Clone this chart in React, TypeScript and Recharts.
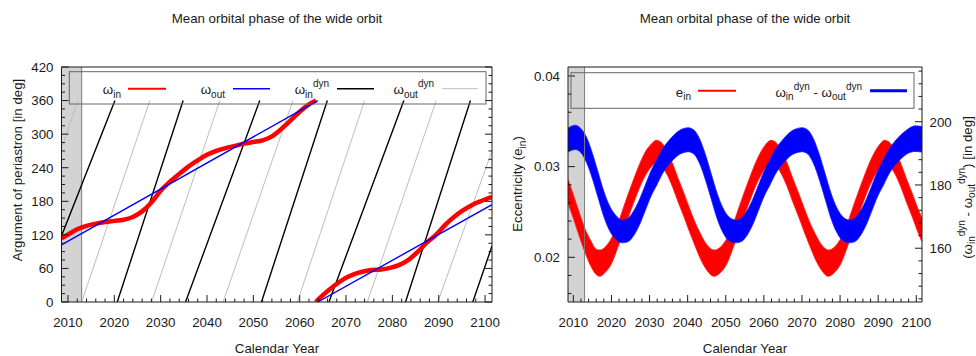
import React from "react";
import {
  ComposedChart,
  Line,
  Area,
  XAxis,
  YAxis,
  ReferenceArea,
  ReferenceLine,
} from "recharts";

const FONT = "'Liberation Sans', Arial, Helvetica, sans-serif";
const FS = 13.3;
const INK = "#1a1a1a";

const YEAR_MIN = 2008.6;
const YEAR_MAX = 2101.5;
const PHASE_MIN = -2.7;
const PHASE_MAX = 323.6;
const OBS_END = 2012.95; // right edge of the shaded window

// tick labels
const yearLabels = [2010, 2020, 2030, 2040, 2050, 2060, 2070, 2080, 2090, 2100];
const phaseLabels = [0, 50, 100, 150, 200, 250, 300];
const argLabels = [0, 60, 120, 180, 240, 300, 360, 420];
const eccLabels = [0.02, 0.03, 0.04];
const diffLabels = [160, 180, 200];

const steps = (from: number, to: number, step: number) => {
  const out: number[] = [];
  for (let v = from; v <= to + step / 1000; v += step) out.push(Number(v.toFixed(4)));
  return out;
};
const yearTicks = steps(2010, 2100, 2);
const phaseTicks = steps(0, 300, 25);
const argTicks = steps(0, 420, 15);
const eccTicks = steps(0.016, 0.04, 0.002);
const diffTicks = steps(144, 216, 4);

// left panel: argument of periastron [deg], branches split where they wrap at 360
const omegaIn: [number, number][][] = [
  [
    [2008.6, 114], [2010.1, 121], [2012, 130], [2014, 136], [2016, 140], [2018, 143],
    [2020, 145], [2022, 147], [2024, 152], [2026, 162], [2028, 178], [2030, 199],
    [2032, 215], [2034, 229], [2036, 242], [2038, 253], [2040, 263], [2042, 270],
    [2044, 275], [2046, 279], [2048, 283], [2050, 286], [2052, 289], [2054, 296],
    [2056, 309], [2058, 324], [2060, 340], [2062, 353], [2063.5, 360],
  ],
  [
    [2063.5, 0], [2064.6, 9], [2066.1, 20], [2067.6, 30], [2069.5, 41], [2071.5, 49],
    [2073.5, 54], [2075.5, 57], [2077.5, 58], [2079.5, 61], [2081.4, 66], [2083.4, 75],
    [2085.4, 89], [2087.4, 106], [2089.4, 120], [2091.4, 138], [2093.3, 152],
    [2095.3, 164], [2097.3, 174], [2099.3, 181], [2101.5, 188],
  ],
];

const omegaOut: [number, number][][] = [
  [[2008.6, 102], [2063.9, 360]],
  [[2063.9, 0], [2101.5, 174]],
];

const omegaInDyn: [number, number][][] = [
  [[2008.6, 118], [2020.13, 360]],
  [[2020.63, 0], [2034.85, 360]],
  [[2035.37, 0], [2051.38, 360]],
  [[2051.75, 0], [2065.97, 360]],
  [[2066.31, 0], [2082.48, 360]],
  [[2082.84, 0], [2096.85, 360]],
  [[2097.35, 0], [2101.5, 100]],
];

const omegaOutDyn: [number, number][][] = [
  [[2008.6, 275], [2012.16, 360]],
  [[2012.95, 0], [2027.67, 360]],
  [[2028.04, 0], [2042.76, 360]],
  [[2043.47, 0], [2058.56, 360]],
  [[2059.5, 0], [2074.01, 360]],
  [[2074.6, 0], [2089.46, 360]],
  [[2089.8, 0], [2101.5, 270]],
];

// right panel: e_in envelope (lower, upper)
const eYears = [
  2008.6, 2010.0, 2011.5, 2013.0, 2014.5, 2016.0, 2017.0, 2018.5, 2020.0, 2021.5, 2023.0,
  2024.5, 2026.0, 2027.5, 2029.0, 2030.5, 2031.7, 2033.0, 2034.5, 2036.0, 2037.5, 2039.0,
  2040.5, 2042.0, 2043.5, 2045.0, 2046.9, 2048.8, 2050.3, 2051.8, 2053.3, 2054.8, 2056.3,
  2057.8, 2059.3, 2060.6, 2061.8, 2063.1, 2064.6, 2066.1, 2067.6, 2069.1, 2070.6, 2072.1,
  2073.6, 2075.1, 2076.9, 2078.7, 2080.2, 2081.7, 2083.2, 2084.7, 2086.2, 2087.7, 2089.2,
  2090.5, 2091.6, 2092.9, 2094.4, 2095.9, 2097.4, 2098.9, 2100.4, 2101.5,
];
const eLower = [
  0.026, 0.0243, 0.0224, 0.0206, 0.0191, 0.0181, 0.0179, 0.0184, 0.0193, 0.0209, 0.0227,
  0.0245, 0.0262, 0.0278, 0.0291, 0.03, 0.0304, 0.0301, 0.0292, 0.0278, 0.0261, 0.0245,
  0.0228, 0.0212, 0.0197, 0.0186, 0.0179, 0.0184, 0.0193, 0.0209, 0.0227, 0.0245, 0.0262,
  0.0278, 0.0291, 0.03, 0.0304, 0.0301, 0.0292, 0.0278, 0.0261, 0.0245, 0.0228, 0.0212,
  0.0197, 0.0186, 0.0179, 0.0184, 0.0193, 0.0209, 0.0227, 0.0245, 0.0262, 0.0278, 0.0291,
  0.03, 0.0304, 0.0301, 0.0292, 0.0278, 0.0261, 0.0245, 0.0228, 0.0217,
];
const eUpper = [
  0.0286, 0.0269, 0.025, 0.0232, 0.0219, 0.0209, 0.0208, 0.0212, 0.0221, 0.0235, 0.0253,
  0.0271, 0.0288, 0.0304, 0.0317, 0.0325, 0.0329, 0.0327, 0.0318, 0.0304, 0.0287, 0.0271,
  0.0254, 0.0238, 0.0225, 0.0214, 0.0208, 0.0212, 0.0221, 0.0235, 0.0253, 0.0271, 0.0288,
  0.0304, 0.0317, 0.0325, 0.0329, 0.0327, 0.0318, 0.0304, 0.0287, 0.0271, 0.0254, 0.0238,
  0.0225, 0.0214, 0.0208, 0.0212, 0.0221, 0.0235, 0.0253, 0.0271, 0.0288, 0.0304, 0.0317,
  0.0325, 0.0329, 0.0327, 0.0318, 0.0304, 0.0287, 0.0271, 0.0254, 0.0243,
];

// right panel: omega_in^dyn - omega_out^dyn envelope [deg]
const dwYears = [
  2008.6, 2010.5, 2012.0, 2013.5, 2015.0, 2016.5, 2018.0, 2019.5, 2021.0, 2022.9, 2024.4,
  2025.9, 2027.4, 2028.9, 2030.4, 2031.9, 2033.4, 2034.9, 2036.4, 2037.9, 2040.2, 2041.7,
  2043.2, 2044.7, 2046.2, 2047.7, 2049.2, 2050.7, 2052.6, 2054.1, 2055.6, 2057.1, 2058.6,
  2060.1, 2061.6, 2063.1, 2064.6, 2066.1, 2067.6, 2070.1, 2071.6, 2073.1, 2074.6, 2076.1,
  2077.6, 2079.1, 2080.6, 2082.4, 2083.9, 2085.4, 2086.9, 2088.4, 2089.9, 2091.4, 2092.9,
  2094.4, 2095.9, 2097.4, 2099.7, 2101.5,
];
const dwLower = [
  190.4, 191.2, 190.2, 187.0, 182.0, 176.0, 170.0, 165.6, 163.0, 161.7, 162.1,
  164.1, 167.5, 172.0, 176.5, 180.0, 183.6, 186.2, 188.2, 189.7, 190.5, 189.7,
  186.6, 181.5, 175.5, 169.5, 165.1, 162.5, 161.7, 162.1, 164.1, 167.5, 172.0,
  176.5, 180.0, 183.6, 186.2, 188.2, 189.7, 190.5, 189.7, 186.6, 181.5, 175.5,
  169.5, 165.1, 162.5, 161.7, 162.1, 164.1, 167.5, 172.0, 176.5, 180.0, 183.6,
  186.2, 188.2, 189.7, 190.6, 190.4,
];
const dwUpper = [
  198.0, 198.9, 197.8, 195.0, 190.0, 184.0, 178.0, 173.4, 170.6, 168.9, 169.5,
  171.9, 175.5, 180.0, 184.5, 188.0, 191.4, 193.8, 195.8, 197.3, 198.1, 197.3,
  194.4, 189.5, 183.5, 177.5, 172.9, 170.1, 168.9, 169.5, 171.9, 175.5, 180.0,
  184.5, 188.0, 191.4, 193.8, 195.8, 197.3, 198.1, 197.3, 194.4, 189.5, 183.5,
  177.5, 172.9, 170.1, 168.9, 169.5, 171.9, 175.5, 180.0, 184.5, 188.0, 191.4,
  193.8, 195.8, 197.3, 198.7, 198.5,
];

const joinBranches = (branches: [number, number][][]) => {
  const out: { x: number; y: number | null }[] = [];
  branches.forEach((b, i) => {
    if (i > 0) out.push({ x: b[0][0], y: null });
    b.forEach(([x, y]) => out.push({ x, y }));
  });
  return out;
};

const eBand = eYears.map((x, i) => ({ x, lo: eLower[i], hi: eUpper[i] }));
const dwBand = dwYears.map((x, i) => ({ x, lo: dwLower[i], hi: dwUpper[i] }));

type Side = "bottom" | "top" | "left" | "right";

const makeTick =
  (side: Side, labels: number[], fmt: (v: number) => string, show = true) =>
  (props: any) => {
    const { x, y, payload } = props;
    const v = Number(payload.value);
    const major = labels.some((m) => Math.abs(m - v) < 1e-9);
    const len = major ? 7 : 3.5;
    const ln = { stroke: INK, strokeWidth: 1 };
    const tx = { fontFamily: FONT, fontSize: FS, fill: INK };
    const label = major && show;
    if (side === "bottom")
      return (
        <g>
          <line x1={x} x2={x} y1={y} y2={y - len} {...ln} />
          {label && (
            <text x={x} y={y + 24.7} textAnchor="middle" {...tx}>
              {fmt(v)}
            </text>
          )}
        </g>
      );
    if (side === "top")
      return (
        <g>
          <line x1={x} x2={x} y1={y} y2={y + len} {...ln} />
          {label && (
            <text x={x} y={y - 14.3} textAnchor="middle" {...tx}>
              {fmt(v)}
            </text>
          )}
        </g>
      );
    if (side === "left")
      return (
        <g>
          <line x1={x} x2={x + len} y1={y} y2={y} {...ln} />
          {label && (
            <text x={x - 8} y={y + 4.8} textAnchor="end" {...tx}>
              {fmt(v)}
            </text>
          )}
        </g>
      );
    return (
      <g>
        <line x1={x} x2={x - len} y1={y} y2={y} {...ln} />
        {label && (
          <text x={x + 7.5} y={y + 4.8} textAnchor="start" {...tx}>
            {fmt(v)}
          </text>
        )}
      </g>
    );
  };

const axisCommon = {
  type: "number" as const,
  allowDataOverflow: true,
  tickLine: false,
  tickSize: 0,
  tickMargin: 0,
  interval: 0 as const,
  axisLine: { stroke: INK, strokeWidth: 1 },
};

const intFmt = (v: number) => String(Math.round(v));
const eccFmt = (v: number) => v.toFixed(2);

function ArgumentPanel() {
  return (
    <ComposedChart width={500} height={356} margin={{ top: 0, right: 7, bottom: 0, left: 0 }}>
      <XAxis
        {...axisCommon}
        xAxisId="year"
        dataKey="x"
        orientation="bottom"
        height={54}
        domain={[YEAR_MIN, YEAR_MAX]}
        ticks={yearTicks}
        tick={makeTick("bottom", yearLabels, intFmt)}
      />
      <XAxis
        {...axisCommon}
        xAxisId="phase"
        orientation="top"
        height={67}
        domain={[PHASE_MIN, PHASE_MAX]}
        ticks={phaseTicks}
        tick={makeTick("top", phaseLabels, intFmt)}
      />
      <YAxis
        {...axisCommon}
        yAxisId="deg"
        orientation="left"
        width={61.5}
        domain={[0, 420]}
        ticks={argTicks}
        tick={makeTick("left", argLabels, intFmt)}
      />
      <YAxis
        {...axisCommon}
        yAxisId="mirror"
        orientation="right"
        width={1}
        domain={[0, 420]}
        ticks={argTicks}
        tick={makeTick("right", argLabels, intFmt, false)}
      />
      <ReferenceArea
        xAxisId="year"
        yAxisId="deg"
        x1={YEAR_MIN}
        x2={OBS_END}
        fill="#d3d3d3"
        fillOpacity={1}
        stroke="none"
      />
      <ReferenceLine xAxisId="year" yAxisId="deg" x={OBS_END} stroke="#7a7a7a" strokeWidth={1} />
      <Line
        xAxisId="year"
        yAxisId="deg"
        data={joinBranches(omegaOutDyn)}
        dataKey="y"
        type="linear"
        stroke="#bdbdbd"
        strokeWidth={1}
        dot={false}
        activeDot={false}
        isAnimationActive={false}
      />
      <Line
        xAxisId="year"
        yAxisId="deg"
        data={joinBranches(omegaInDyn)}
        dataKey="y"
        type="linear"
        stroke="#000000"
        strokeWidth={1.4}
        dot={false}
        activeDot={false}
        isAnimationActive={false}
      />
      <Line
        xAxisId="year"
        yAxisId="deg"
        data={joinBranches(omegaIn)}
        dataKey="y"
        type="monotone"
        stroke="#ff0000"
        strokeWidth={4.5}
        dot={false}
        activeDot={false}
        isAnimationActive={false}
      />
      <Line
        xAxisId="year"
        yAxisId="deg"
        data={joinBranches(omegaOut)}
        dataKey="y"
        type="linear"
        stroke="#0000ff"
        strokeWidth={1.4}
        dot={false}
        activeDot={false}
        isAnimationActive={false}
      />
    </ComposedChart>
  );
}

function EccentricityPanel() {
  return (
    <ComposedChart width={476} height={356} margin={{ top: 0, right: 0, bottom: 0, left: 0 }}>
      <XAxis
        {...axisCommon}
        xAxisId="year"
        dataKey="x"
        orientation="bottom"
        height={54}
        domain={[YEAR_MIN, YEAR_MAX]}
        ticks={yearTicks}
        tick={makeTick("bottom", yearLabels, intFmt)}
      />
      <XAxis
        {...axisCommon}
        xAxisId="phase"
        orientation="top"
        height={67}
        domain={[PHASE_MIN, PHASE_MAX]}
        ticks={phaseTicks}
        tick={makeTick("top", phaseLabels, intFmt)}
      />
      <YAxis
        {...axisCommon}
        yAxisId="ecc"
        orientation="left"
        width={68}
        domain={[0.01507, 0.04099]}
        ticks={eccTicks}
        tick={makeTick("left", eccLabels, eccFmt)}
      />
      <YAxis
        {...axisCommon}
        yAxisId="diff"
        orientation="right"
        width={54}
        domain={[143.0, 217.3]}
        ticks={diffTicks}
        tick={makeTick("right", diffLabels, intFmt)}
      />
      <ReferenceArea
        xAxisId="year"
        yAxisId="ecc"
        x1={YEAR_MIN}
        x2={OBS_END}
        fill="#d3d3d3"
        fillOpacity={1}
        stroke="none"
      />
      <ReferenceLine xAxisId="year" yAxisId="ecc" x={OBS_END} stroke="#7a7a7a" strokeWidth={1} />
      <Area
        xAxisId="year"
        yAxisId="ecc"
        data={eBand}
        dataKey={(d: any) => [d.lo, d.hi]}
        type="monotone"
        fill="#ff0000"
        fillOpacity={1}
        stroke="#ff1a1a"
        strokeWidth={0.8}
        dot={false}
        activeDot={false}
        isAnimationActive={false}
      />
      <Area
        xAxisId="year"
        yAxisId="diff"
        data={dwBand}
        dataKey={(d: any) => [d.lo, d.hi]}
        type="monotone"
        fill="#0000ff"
        fillOpacity={1}
        stroke="#1a1aff"
        strokeWidth={0.8}
        dot={false}
        activeDot={false}
        isAnimationActive={false}
      />
    </ComposedChart>
  );
}

const txt = { fontFamily: FONT, fontSize: FS, fill: INK };
const SUB = 10;

function Overlay() {
  return (
    <svg
      width={976}
      height={356}
      style={{ position: "absolute", left: 0, top: 0, pointerEvents: "none" }}
    >
      {/* axis titles */}
      <text x={277} y={22.5} textAnchor="middle" {...txt}>
        Mean orbital phase of the wide orbit
      </text>
      <text x={745} y={22.5} textAnchor="middle" {...txt}>
        Mean orbital phase of the wide orbit
      </text>
      <text x={277} y={352.5} textAnchor="middle" {...txt}>
        Calendar Year
      </text>
      <text x={745} y={352.5} textAnchor="middle" {...txt}>
        Calendar Year
      </text>
      <text transform="translate(22,170) rotate(-90)" textAnchor="middle" {...txt}>
        Argument of periastron [in deg]
      </text>
      <text transform="translate(522,184) rotate(-90)" textAnchor="middle" {...txt}>
        Eccentricity (e<tspan dy={3.5} fontSize={SUB}>in</tspan>
        <tspan dy={-3.5}>)</tspan>
      </text>
      <text transform="translate(971.5,187.5) rotate(-90)" textAnchor="middle" {...txt}>
        (ω<tspan dy={3.5} fontSize={SUB}>in</tspan>
        <tspan dy={-10.5} fontSize={SUB}>dyn</tspan>
        <tspan dy={7}> - ω</tspan>
        <tspan dy={3.5} fontSize={SUB}>out</tspan>
        <tspan dy={-10.5} fontSize={SUB}>dyn</tspan>
        <tspan dy={7}>) [in deg]</tspan>
      </text>

      {/* left legend */}
      <rect x={69.3} y={71.7} width={416.7} height={32.3} fill="none" stroke="#666" strokeWidth={1} />
      <text x={121} y={94} textAnchor="end" {...txt}>
        ω<tspan dy={3.5} fontSize={SUB}>in</tspan>
      </text>
      <line x1={128} x2={166} y1={88.7} y2={88.7} stroke="#ff0000" strokeWidth={2} />
      <text x={225} y={94} textAnchor="end" {...txt}>
        ω<tspan dy={3.5} fontSize={SUB}>out</tspan>
      </text>
      <line x1={233} x2={270} y1={88.7} y2={88.7} stroke="#0000ff" strokeWidth={1.4} />
      <text x={329} y={94} textAnchor="end" {...txt}>
        ω<tspan dy={3.5} fontSize={SUB}>in</tspan>
        <tspan dy={-10.5} fontSize={SUB}>dyn</tspan>
      </text>
      <line x1={337} x2={374} y1={88.7} y2={88.7} stroke="#000" strokeWidth={1.4} />
      <text x={434} y={94} textAnchor="end" {...txt}>
        ω<tspan dy={3.5} fontSize={SUB}>out</tspan>
        <tspan dy={-10.5} fontSize={SUB}>dyn</tspan>
      </text>
      <line x1={442} x2={478} y1={88.7} y2={88.7} stroke="#bdbdbd" strokeWidth={1} />

      {/* right legend */}
      <rect x={571} y={72.7} width={343} height={35.6} fill="none" stroke="#666" strokeWidth={1} />
      <text x={691} y={96.8} textAnchor="end" {...txt}>
        e<tspan dy={3.5} fontSize={SUB}>in</tspan>
      </text>
      <line x1={698} x2={736} y1={90.7} y2={90.7} stroke="#ff0000" strokeWidth={2} />
      <text x={862} y={96.8} textAnchor="end" {...txt}>
        ω<tspan dy={3.5} fontSize={SUB}>in</tspan>
        <tspan dy={-10.5} fontSize={SUB}>dyn</tspan>
        <tspan dy={7}> - ω</tspan>
        <tspan dy={3.5} fontSize={SUB}>out</tspan>
        <tspan dy={-10.5} fontSize={SUB}>dyn</tspan>
      </text>
      <line x1={870} x2={907} y1={90.7} y2={90.7} stroke="#0000ff" strokeWidth={3} />
    </svg>
  );
}

export default function App() {
  return (
    <div
      style={{
        position: "absolute",
        left: 0,
        top: 0,
        width: 976,
        height: 356,
        background: "#fff",
        overflow: "hidden",
      }}
    >
      <div style={{ position: "absolute", left: 0, top: 0 }}>
        <ArgumentPanel />
      </div>
      <div style={{ position: "absolute", left: 500, top: 0 }}>
        <EccentricityPanel />
      </div>
      <Overlay />
    </div>
  );
}
